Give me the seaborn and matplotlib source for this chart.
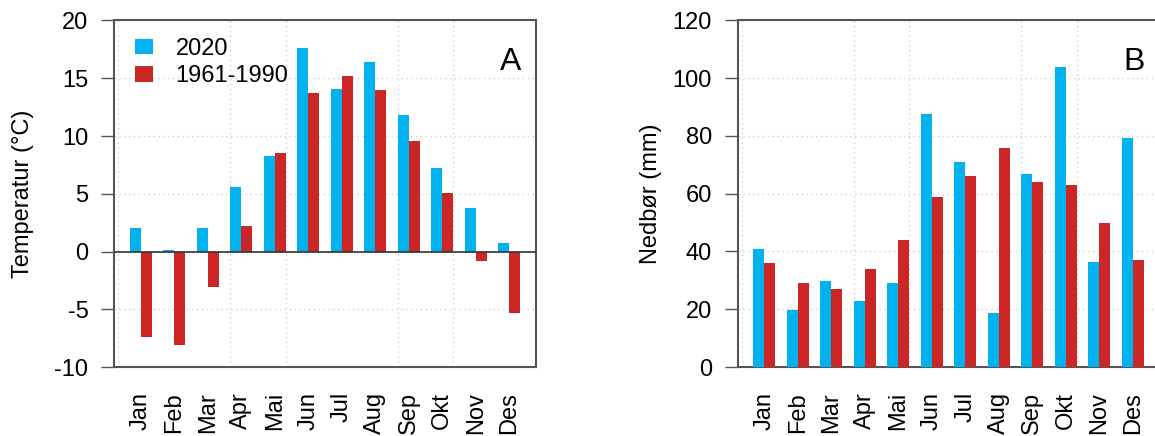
import matplotlib
matplotlib.use("Agg")
import matplotlib.pyplot as plt
import seaborn as sns
import pandas as pd
import numpy as np

months = ["Jan", "Feb", "Mar", "Apr", "Mai", "Jun", "Jul", "Aug", "Sep", "Okt", "Nov", "Des"]
series_names = ["2020", "1961-1990"]
temp_2020 = [2.0, 0.1, 2.0, 5.6, 8.3, 17.6, 14.1, 16.4, 11.8, 7.2, 3.8, 0.7]
temp_normal = [-7.4, -8.1, -3.1, 2.2, 8.5, 13.7, 15.2, 14.0, 9.6, 5.1, -0.8, -5.3]
prec_2020 = [40.7, 19.8, 29.9, 23.0, 29.2, 87.6, 70.9, 18.6, 66.7, 104.0, 36.4, 79.4]
prec_normal = [36, 29, 27, 34, 44, 59, 66, 76, 64, 63, 50, 37]
colors = ["#00B2EE", "#CD2626"]

sns.set_style("white")
plt.rcParams["font.family"] = ["Liberation Sans", "DejaVu Sans"]
plt.rcParams.update({"text.color": "black", "axes.labelcolor": "black",
                     "xtick.labelcolor": "black", "ytick.labelcolor": "black"})
FS = 17

def long_df(a, b):
    return pd.DataFrame({
        "month": months * 2,
        "value": list(a) + list(b),
        "series": [series_names[0]] * 12 + [series_names[1]] * 12,
    })

fig = plt.figure(figsize=(11.55, 4.36), dpi=100)
W = 422 / 1155
H = (367 - 20.5) / 436
B0 = 1 - 367 / 436
axA = fig.add_axes([114 / 1155, B0, W, H])
axB = fig.add_axes([737.5 / 1155, B0, W, H])

frame_col = "#555555"
grid_kw = dict(color="#cfcfcf", linestyle=(0, (1, 2.5)), linewidth=1.0)

def style(ax, ylim, yticks, ylabel, letter, label_x):
    sns.barplot(data=long_df(*ylim[2]), x="month", y="value", hue="series",
                order=months, hue_order=series_names, palette=colors,
                width=2 / 3, saturation=1, edgecolor="none", linewidth=0,
                errorbar=None, ax=ax, zorder=3)
    ax.set_xlim(-0.8, 11.8)
    ax.set_ylim(ylim[0], ylim[1])
    ax.set_yticks(yticks)
    ax.set_yticklabels([str(t) for t in yticks])
    ax.set_xticks(range(12))
    ax.set_xticklabels(months, rotation=90, va="top", ha="center")
    ax.set_xticks([(u - 2) / 3 for u in range(0, 36, 5)], minor=True)
    ax.tick_params(axis="x", which="both", length=0, pad=18, labelsize=FS,
                   labelcolor="black")
    ax.tick_params(axis="y", which="major", length=9.4, width=1.0, color=frame_col,
                   pad=9, labelsize=FS, left=True, labelcolor="black")
    ax.set_axisbelow(True)
    ax.grid(False)
    ax.grid(True, axis="x", which="minor", **grid_kw)
    ax.grid(True, axis="y", which="major", **grid_kw)
    for s in ax.spines.values():
        s.set_visible(True)
        s.set_color(frame_col)
        s.set_linewidth(1.5)
    ax.set_xlabel("")
    ax.set_ylabel(ylabel, fontsize=FS, color="black")
    ax.yaxis.set_label_coords(label_x, 0.5)
    ax.text(0.966, 0.857, letter, transform=ax.transAxes, ha="right", va="baseline",
            fontsize=23, color="black")

style(axA, (-10, 20, (temp_2020, temp_normal)), list(range(-10, 21, 5)),
      "Temperatur (\u00b0C)", "A", -0.19)
axA.axhline(0, color="#333333", linewidth=1.2, zorder=4)
leg = axA.legend(loc="upper left", bbox_to_anchor=(0.05, 0.95), frameon=False,
                 fontsize=FS, handlelength=0.76, handleheight=0.64,
                 handletextpad=0.95, labelspacing=0.22, borderpad=0, borderaxespad=0,
                 labelcolor="black")

style(axB, (0, 120, (prec_2020, prec_normal)), list(range(0, 121, 20)),
      "Nedb\u00f8r (mm)", "B", -0.179)
if axB.get_legend() is not None:
    axB.get_legend().remove()

fig.savefig("out.png", dpi=100)
